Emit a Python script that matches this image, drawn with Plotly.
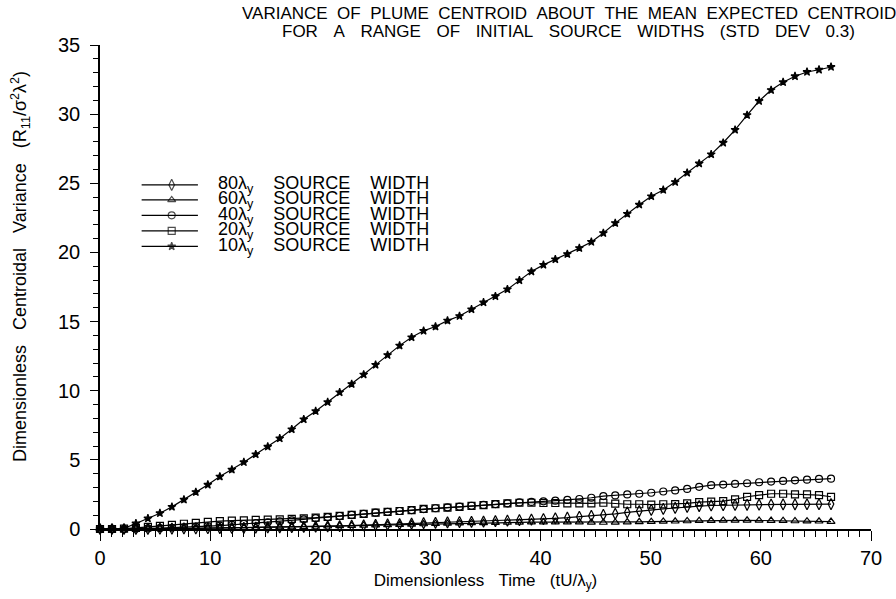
import plotly.graph_objects as go

# Dimensionless time of each output step
time = [0.0, 1.09, 2.18, 3.26, 4.35, 5.44, 6.53, 7.62, 8.70, 9.79,
        10.88, 11.97, 13.06, 14.14, 15.23, 16.32, 17.41, 18.50, 19.58, 20.67,
        21.76, 22.85, 23.94, 25.02, 26.11, 27.20, 28.29, 29.38, 30.46, 31.55,
        32.64, 33.73, 34.82, 35.90, 36.99, 38.08, 39.17, 40.26, 41.34, 42.43,
        43.52, 44.61, 45.70, 46.78, 47.87, 48.96, 50.05, 51.14, 52.22, 53.31,
        54.40, 55.49, 56.58, 57.66, 58.75, 59.84, 60.93, 62.02, 63.10, 64.19,
        65.28, 66.37]

var_80 = [0.0, 0.0, 0.0, 0.0, 0.01, 0.02, 0.03, 0.04, 0.05, 0.06,
          0.07, 0.08, 0.09, 0.10, 0.11, 0.12, 0.13, 0.15, 0.17, 0.19,
          0.21, 0.24, 0.27, 0.30, 0.33, 0.36, 0.39, 0.42, 0.45, 0.48,
          0.50, 0.52, 0.54, 0.57, 0.60, 0.64, 0.68, 0.72, 0.77, 0.82,
          0.88, 0.95, 1.02, 1.10, 1.20, 1.30, 1.38, 1.45, 1.52, 1.60,
          1.66, 1.70, 1.72, 1.74, 1.75, 1.76, 1.77, 1.78, 1.78, 1.79,
          1.79, 1.80]

var_60 = [0.0, 0.0, 0.0, 0.0, 0.01, 0.02, 0.03, 0.04, 0.05, 0.06,
          0.07, 0.08, 0.10, 0.11, 0.12, 0.13, 0.14, 0.16, 0.18, 0.20,
          0.22, 0.24, 0.26, 0.28, 0.30, 0.32, 0.34, 0.36, 0.38, 0.40,
          0.42, 0.44, 0.45, 0.46, 0.47, 0.48, 0.49, 0.50, 0.50, 0.50,
          0.49, 0.48, 0.47, 0.48, 0.50, 0.52, 0.53, 0.55, 0.56, 0.58,
          0.60, 0.61, 0.62, 0.63, 0.63, 0.62, 0.61, 0.60, 0.58, 0.57,
          0.56, 0.54]

var_40 = [0.0, 0.0, 0.0, 0.02, 0.04, 0.06, 0.09, 0.12, 0.16, 0.20,
          0.25, 0.30, 0.36, 0.42, 0.48, 0.55, 0.62, 0.70, 0.78, 0.86,
          0.94, 1.02, 1.10, 1.18, 1.24, 1.30, 1.37, 1.44, 1.50, 1.56,
          1.62, 1.68, 1.74, 1.80, 1.86, 1.92, 1.96, 2.00, 2.05, 2.10,
          2.17, 2.26, 2.38, 2.43, 2.50, 2.55, 2.62, 2.71, 2.79, 2.90,
          3.05, 3.17, 3.21, 3.26, 3.31, 3.38, 3.43, 3.48, 3.52, 3.57,
          3.62, 3.64]

var_20 = [0.0, 0.0, 0.02, 0.08, 0.15, 0.22, 0.30, 0.38, 0.45, 0.52,
          0.57, 0.60, 0.63, 0.66, 0.68, 0.70, 0.73, 0.77, 0.82, 0.88,
          0.95, 1.02, 1.10, 1.18, 1.24, 1.30, 1.37, 1.45, 1.50, 1.55,
          1.60, 1.67, 1.73, 1.80, 1.86, 1.90, 1.90, 1.88, 1.88, 1.86,
          1.85, 1.85, 1.90, 1.83, 1.79, 1.79, 1.76, 1.79, 1.80, 1.86,
          1.95, 1.98, 2.02, 2.14, 2.33, 2.45, 2.55, 2.55, 2.50, 2.50,
          2.45, 2.33]

var_10 = [0.0, 0.0, 0.05, 0.40, 0.76, 1.14, 1.60, 2.12, 2.67, 3.20,
          3.79, 4.29, 4.83, 5.40, 5.95, 6.55, 7.21, 7.93, 8.52, 9.17,
          9.88, 10.48, 11.17, 11.87, 12.58, 13.26, 13.86, 14.33, 14.64, 15.07,
          15.40, 15.88, 16.38, 16.83, 17.33, 17.98, 18.62, 19.10, 19.50, 19.88,
          20.31, 20.76, 21.40, 22.12, 22.79, 23.45, 24.06, 24.52, 25.09, 25.76,
          26.43, 27.09, 27.93, 28.86, 29.93, 30.95, 31.74, 32.31, 32.74, 33.05,
          33.21, 33.41]

widths = ["80", "60", "40", "20", "10"]
series = [var_80, var_60, var_40, var_20, var_10]
symbols = ["diamond-tall-open", "triangle-up-open", "circle-open", "square-open", "star"]
sizes = [8, 7, 7, 7, 6]

FONT = "Liberation Sans"
INK = "black"
SP = "&nbsp;&nbsp;&nbsp;"
SP4 = "&nbsp;&nbsp;&nbsp;&nbsp;"
SP3H = "&nbsp;&nbsp;&nbsp;&#8202;"


def spaced(words, gap=SP):
    return gap.join(words)


fig = go.Figure()

for w, ys, sym, sz in zip(widths, series, symbols, sizes):
    fig.add_trace(go.Scatter(
        x=time, y=ys, mode="lines+markers", name=f"{w}λy SOURCE WIDTH",
        line=dict(color=INK, width=1.2),
        marker=dict(symbol=sym, size=sz, color=INK, line=dict(color=INK, width=1.2)),
        cliponaxis=False, showlegend=False,
    ))

# Key drawn on a hidden overlay axis spanning the plot area (0..1 each way)
key_x0, key_xm, key_x1 = 0.054, 0.093, 0.127
key_rows = [0.711, 0.680, 0.648, 0.616, 0.584]
for w, sym, sz, ky in zip(widths, symbols, sizes, key_rows):
    fig.add_trace(go.Scatter(
        x=[key_x0, key_xm, key_x1], y=[ky, ky, ky], xaxis="x2", yaxis="y2",
        mode="lines+markers", line=dict(color=INK, width=1.2),
        marker=dict(symbol=sym, size=[0, sz, 0], color=INK,
                    line=dict(color=INK, width=1.2)),
        showlegend=False, hoverinfo="skip",
    ))
    fig.add_annotation(
        xref="x2", yref="y2", x=0.150, y=ky, xanchor="left", yanchor="middle",
        text=f"{w}λ<sub>y</sub>{SP4}SOURCE{SP4}WIDTH", showarrow=False,
        font=dict(family=FONT, size=18, color=INK),
    )

# Two-line heading, placed line by line above the plot area
title_lines = [
    ("VARIANCE OF PLUME CENTROID ABOUT THE MEAN EXPECTED CENTROID", "&nbsp;&nbsp;", 32),
    ("FOR A RANGE OF INITIAL SOURCE WIDTHS (STD DEV 0.3)", SP3H, 14),
]
for line, gap, shift in title_lines:
    fig.add_annotation(
        xref="paper", yref="paper", x=0.608, y=1.0, xanchor="center", yanchor="middle",
        yshift=shift, text=gap.join(line.split(" ")), showarrow=False,
        font=dict(family=FONT, size=17, color=INK),
    )

# Vertical axis caption
fig.add_annotation(
    xref="paper", yref="paper", x=-0.104, y=0.543, xanchor="center", yanchor="middle",
    textangle=-90, showarrow=False,
    text=spaced(["Dimensionless", "Centroidal", "Variance",
                 "(R<sub>11</sub>/σ<sup>2</sup>λ<sup>2</sup>)"]),
    font=dict(family=FONT, size=18, color=INK),
)

fig.update_layout(
    width=896, height=599,
    margin=dict(l=100, r=25, t=45, b=64),
    paper_bgcolor="white", plot_bgcolor="white",
    font=dict(family=FONT, color=INK),
    xaxis=dict(
        range=[0, 70], dtick=10, tick0=0, showgrid=False, zeroline=False,
        showline=True, linecolor=INK, linewidth=1.5, mirror=False,
        ticks="outside", ticklen=10, tickwidth=1.2, tickcolor=INK,
        minor=dict(dtick=1, ticks="outside", ticklen=6, tickwidth=1, tickcolor=INK),
        tickfont=dict(family=FONT, size=20, color=INK),
        title=dict(text=spaced(["Dimensionless", "Time", "(tU/λ<sub>y</sub>)"]),
                   font=dict(family=FONT, size=17, color=INK), standoff=6),
    ),
    yaxis=dict(
        range=[0, 35], dtick=5, tick0=0, showgrid=False, zeroline=False,
        showline=True, linecolor=INK, linewidth=1.5, mirror=False,
        ticks="outside", ticklen=8, tickwidth=1.2, tickcolor=INK,
        minor=dict(dtick=1, ticks="outside", ticklen=5, tickwidth=1, tickcolor=INK),
        tickfont=dict(family=FONT, size=20, color=INK),
        ticklabelstandoff=6,
    ),
    xaxis2=dict(range=[0, 1], overlaying="x", anchor="y2", visible=False, fixedrange=True),
    yaxis2=dict(range=[0, 1], overlaying="y", anchor="x2", visible=False, fixedrange=True),
    showlegend=False,
)

fig.write_html("out.html")
